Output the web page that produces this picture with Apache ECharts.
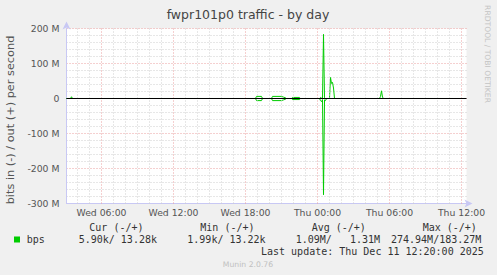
<!DOCTYPE html>
<html><head><meta charset="utf-8">
<script src="https://cdn.jsdelivr.net/npm/echarts@6/dist/echarts.min.js"></script>
<style>html,body{margin:0;padding:0;background:#f0f0f0}#c{width:497px;height:275px}</style>
</head><body><div id="c"></div>
<script>
// ---- data ----
const chartTitle = 'fwpr101p0 traffic - by day';
const yAxisTitle = 'bits in (-) / out (+) per second';
const sideText = 'RRDTOOL / TOBI OETIKER';
const footerText = 'Munin 2.0.76';
const xTickLabels = ['Wed 06:00','Wed 12:00','Wed 18:00','Thu 00:00','Thu 06:00','Thu 12:00'];
const yTickValues = [-300,-200,-100,0,100,200]; // Mbit/s
const viewStart = 'Wed 03:05';
const viewEnd = 'Thu 12:25';
// out (+), Mbit/s
const outTimes = ['Wed 03:05','Wed 03:25','Wed 03:30','Wed 03:35',
  'Wed 18:50','Wed 18:55','Wed 19:20','Wed 19:25',
  'Wed 20:10','Wed 20:15','Wed 21:00','Wed 21:10','Wed 21:20','Wed 21:25',
  'Wed 21:50','Wed 21:55','Wed 22:30','Wed 22:35',
  'Thu 00:10','Thu 00:15','Thu 00:20','Thu 00:25','Thu 00:30','Thu 00:35','Thu 00:40',
  'Thu 01:00','Thu 01:05','Thu 01:10','Thu 01:15','Thu 01:20','Thu 01:25',
  'Thu 05:10','Thu 05:15','Thu 05:20','Thu 05:25','Thu 05:30',
  'Thu 12:20'];
const outMbps = [0.013,0.013,5,0.013,
  0.013,6,6,0.013,
  0.013,6,6,4,2,0.013,
  0.013,3,3,0.013,
  0.013,3,1,0.5,183.27,2,0.013,
  0.013,60,43,46,30,0.013,
  0.013,6,22,4,0.013,
  0.013];
// in (-), Mbit/s, drawn negative
const inTimes = ['Wed 03:05',
  'Wed 18:50','Wed 18:55','Wed 19:20','Wed 19:25',
  'Wed 20:10','Wed 20:15','Wed 21:00','Wed 21:10','Wed 21:20','Wed 21:25',
  'Wed 21:50','Wed 21:55','Wed 22:30','Wed 22:35',
  'Thu 00:10','Thu 00:15','Thu 00:20','Thu 00:25','Thu 00:30','Thu 00:35','Thu 00:40','Thu 00:45',
  'Thu 12:20'];
const inMbps = [-0.006,
  -0.006,-6,-6,-0.006,
  -0.006,-6,-6,-4,-2,-0.006,
  -0.006,-3,-3,-0.006,
  -0.006,-6,-9,-3,-274.94,-4,-6,-0.006,
  -0.006];
const legendName = 'bps';
const legendHeaders = ['Cur (-/+)','Min (-/+)','Avg (-/+)','Max (-/+)'];
const legendValues = ['5.90k/ 13.28k','1.99k/ 13.22k','1.09M/   1.31M','274.94M/183.27M'];
const lastUpdate = 'Last update: Thu Dec 11 12:20:00 2025';

// ---- helpers ----
const DAYS = ['Wed','Thu'];
function H(s){ const [d,t]=s.split(' '); const [hh,mm]=t.split(':').map(Number); return DAYS.indexOf(d)*24+hh+mm/60; }
const tickHours = xTickLabels.map(H);
const xMin = H(viewStart), xMax = H(viewEnd);

const GREEN = '#00cc00';
const MAJ = '#eaa0a0', MIN = '#cfcfcf';
const gridLines = [];
for (let h = Math.ceil(xMin); h <= Math.floor(xMax); h++) {
  const major = tickHours.some(t => Math.abs(t-h) < 1e-6);
  gridLines.push({xAxis:h, lineStyle:{color: major?MAJ:MIN, type:[1,2], width:1}});
}
gridLines.push({xAxis:xMax, lineStyle:{color:'#9a9a9a', type:'solid', width:1}});

const mono = 'DejaVu Sans Mono';
const sans = 'DejaVu Sans';
const hdrX = [89.3, 200.3, 311.7, 422.7];
const valX = [78.7, 187.3, 295.7, 391];
const graphic = [
  {type:'text', x:248, y:14, style:{text:chartTitle, align:'center', verticalAlign:'middle', fontFamily:sans, fontSize:12.5, fill:'#444'}},
  {type:'text', x:10, y:120, rotation:Math.PI/2, style:{text:yAxisTitle, align:'center', verticalAlign:'middle', fontFamily:sans, fontSize:11.3, fill:'#555'}},
  {type:'text', x:487, y:54, rotation:-Math.PI/2, style:{text:sideText, align:'center', verticalAlign:'middle', fontFamily:sans, fontSize:7.6, fill:'#c4c4c4'}},
  {type:'text', x:248, y:264.5, style:{text:footerText, align:'center', verticalAlign:'middle', fontFamily:sans, fontSize:7.7, fill:'#c0c0c0'}},
  {type:'rect', shape:{x:14, y:236.5, width:6, height:6}, style:{fill:GREEN}},
  {type:'text', x:26.7, y:239.5, style:{text:legendName, align:'left', verticalAlign:'middle', fontFamily:mono, fontSize:10, fill:'#333'}},
  {type:'text', x:261, y:251.5, style:{text:lastUpdate, align:'left', verticalAlign:'middle', fontFamily:mono, fontSize:10, fill:'#333'}}
];
legendHeaders.forEach((t,i)=>graphic.push({type:'text', x:hdrX[i], y:227.5, style:{text:t, align:'left', verticalAlign:'middle', fontFamily:mono, fontSize:10, fill:'#333'}}));
legendValues.forEach((t,i)=>graphic.push({type:'text', x:valX[i], y:239.5, style:{text:t, align:'left', verticalAlign:'middle', fontFamily:mono, fontSize:10, fill:'#333'}}));

const chart = echarts.init(document.getElementById('c'), null, {renderer:'svg'});
chart.setOption({
  animation:false,
  backgroundColor:'#f0f0f0',
  textStyle:{fontFamily:sans},
  grid:{left:66.5, right:30.5, top:28.5, bottom:71.5, show:true, backgroundColor:'#ffffff', borderWidth:0},
  xAxis:{type:'value', min:xMin, max:xMax,
    axisLine:{show:true, onZero:false, lineStyle:{color:'#c8c8f4'}, symbol:['none','arrow'], symbolSize:[6,8], symbolOffset:[0,6]},
    axisTick:{show:false, customValues:tickHours},
    axisLabel:{customValues:tickHours, formatter:v=>{const i=tickHours.findIndex(t=>Math.abs(t-v)<1e-6); return i>=0?xTickLabels[i]:'';}, color:'#555', fontSize:9.3, fontFamily:sans, margin:4},
    splitLine:{show:false}},
  yAxis:{type:'value', min:yTickValues[0], max:yTickValues[yTickValues.length-1], interval:yTickValues[1]-yTickValues[0],
    axisLine:{show:true, lineStyle:{color:'#c8c8f4'}, symbol:['none','arrow'], symbolSize:[6,8], symbolOffset:[0,7]},
    axisTick:{show:false},
    axisLabel:{formatter:v=>v===0?'0':v+' M', color:'#555', fontSize:9.3, fontFamily:sans, margin:7},
    splitLine:{show:true, lineStyle:{color:MAJ, type:[1,2], width:1}},
    minorTick:{show:false, splitNumber:5},
    minorSplitLine:{show:true, lineStyle:{color:MIN, type:[1,2], width:1}}},
  graphic: graphic,
  series:[
    {type:'line', name:'grid', z:2, silent:true, data:[[xMin,0]], showSymbol:false, lineStyle:{opacity:0},
     markLine:{silent:true, symbol:['none','none'], label:{show:false}, animation:false, data:gridLines}},
    {type:'line', name:'in', z:3, data:inTimes.map((t,i)=>[H(t), inMbps[i]]), showSymbol:false, lineStyle:{color:GREEN, width:1}, itemStyle:{color:GREEN}},
    {type:'line', name:'out', z:3, data:outTimes.map((t,i)=>[H(t), outMbps[i]]), showSymbol:false, lineStyle:{color:GREEN, width:1}, itemStyle:{color:GREEN}},
    {type:'line', name:'zero', z:4, silent:true, data:[[xMin,0]], showSymbol:false, lineStyle:{opacity:0},
     markLine:{silent:true, symbol:['none','none'], label:{show:false}, animation:false, data:[{yAxis:0, lineStyle:{color:'#000', type:'solid', width:1}}]}}
  ]
});
</script></body></html>
